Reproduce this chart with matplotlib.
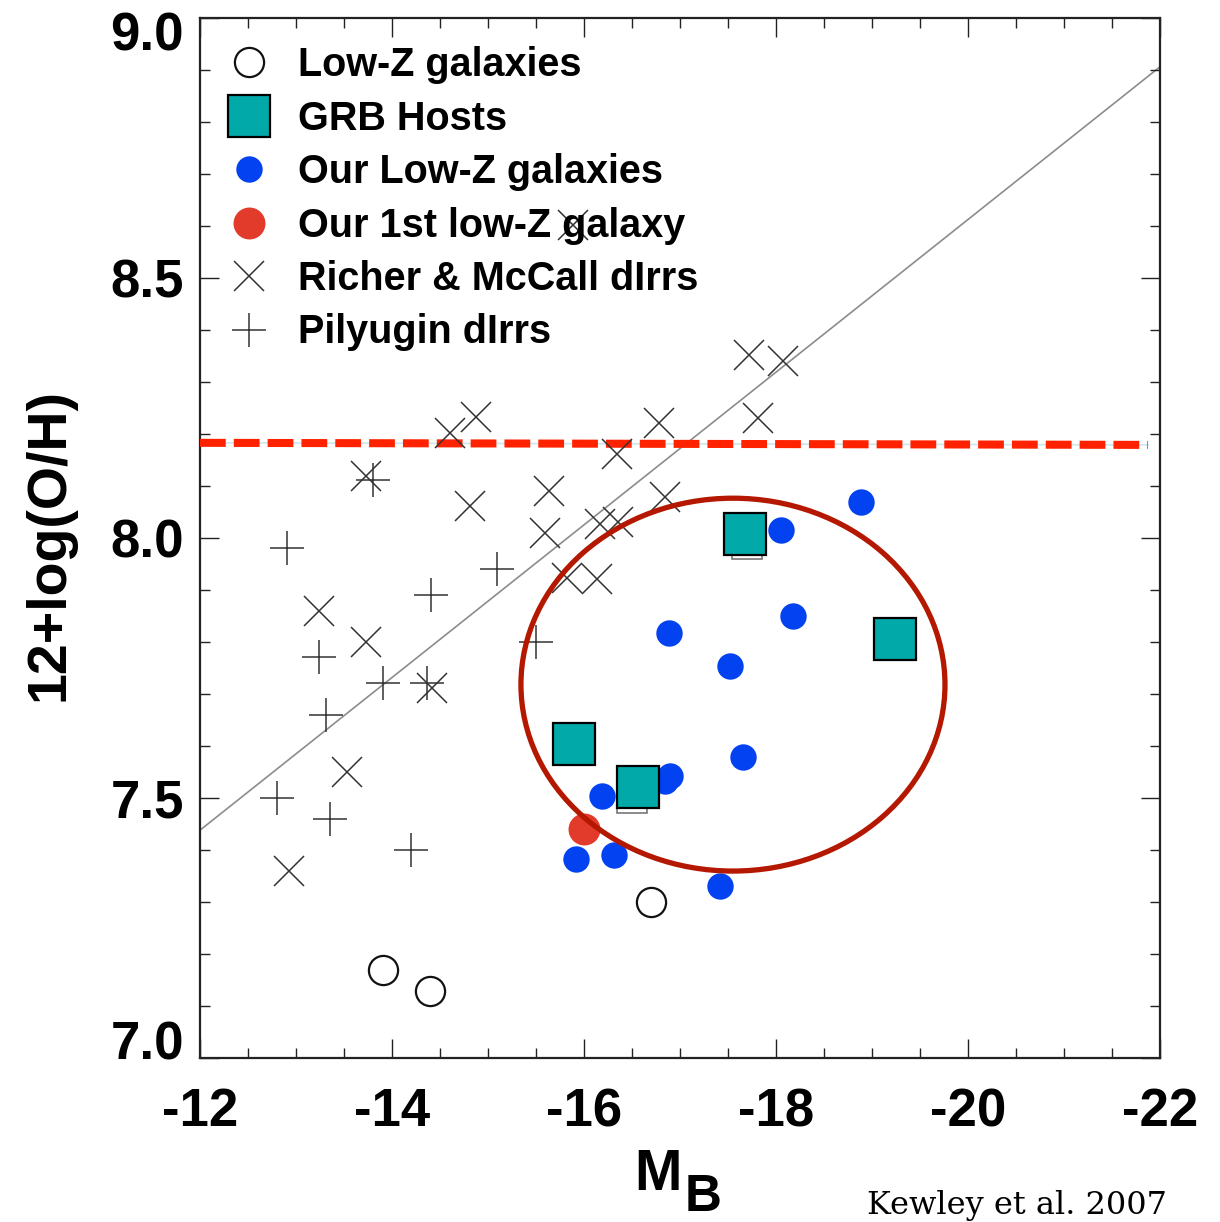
import matplotlib
matplotlib.use("Agg")
import matplotlib.pyplot as plt
from matplotlib.patches import Ellipse
from matplotlib.ticker import MultipleLocator
from matplotlib.transforms import ScaledTranslation

plt.rcParams['font.family'] = ['Liberation Sans', 'DejaVu Sans']

# ---------------- data ----------------
lowz_mb = [-13.906, -14.396, -16.698]
lowz_oh = [7.169, 7.129, 7.300]

grb_mb = [-17.677, -19.240, -15.896, -16.563]
grb_oh = [8.008, 7.806, 7.604, 7.521]

grb_alt_mb = [-17.698, -16.500, -19.260]
grb_alt_oh = [7.988, 7.500, 7.798]

our_mb = [-18.885, -18.052, -18.177, -16.885, -17.520, -17.656, -16.896,
          -16.844, -16.188, -15.917, -16.313, -17.417]
our_oh = [8.069, 8.015, 7.850, 7.817, 7.754, 7.579, 7.542,
          7.533, 7.504, 7.383, 7.390, 7.331]

first_mb = [-16.00]
first_oh = [7.440]

rm_mb = [-14.604, -14.875, -13.729, -16.781, -16.344, -14.813, -15.635,
         -15.594, -16.167, -16.354, -16.844, -15.823, -16.135, -13.240,
         -13.729, -14.417, -12.927, -13.531, -17.719, -18.073, -17.813,
         -15.885]
rm_oh = [8.202, 8.233, 8.119, 8.221, 8.162, 8.062, 8.090,
         8.010, 8.027, 8.031, 8.079, 7.923, 7.921, 7.860,
         7.800, 7.712, 7.360, 7.550, 8.352, 8.340, 8.231,
         8.602]

pil_mb = [-12.906, -13.802, -15.094, -14.406, -13.240, -13.906, -14.365,
          -13.313, -15.500, -12.802, -13.354, -14.198]
pil_oh = [7.981, 8.112, 7.940, 7.890, 7.771, 7.721, 7.721,
          7.660, 7.800, 7.500, 7.460, 7.400]

fit_mb = [-12.0, -22.0]
fit_oh = [7.438, 8.906]

limit_mb = [-12.0, -21.875]
limit_oh = [8.183, 8.179]

ellipse_center = (-17.552, 7.718)
ellipse_size = (4.417, 0.717)

xticks = [-12, -14, -16, -18, -20, -22]
yticks = [7.0, 7.5, 8.0, 8.5, 9.0]

# ---------------- figure ----------------
fig = plt.figure(figsize=(12.2, 12.22), dpi=100)
ax = fig.add_axes([0.1639, 0.1342, 0.7869, 0.8511])

ax.plot(fit_mb, fit_oh, color='#8c8c8c', lw=1.2, zorder=1)
ax.plot(limit_mb, limit_oh, color='#cfe6ea', lw=1.2, zorder=2)
ax.plot(limit_mb, limit_oh, color='#ff2200', lw=5.8, dashes=(3.2, 1.0),
        zorder=3, solid_capstyle='butt', dash_capstyle='butt')

ax.plot(rm_mb, rm_oh, ls='none', marker='x', ms=22, mew=1.1,
        color='#333333', label='Richer & McCall dIrrs', zorder=4)
ax.plot(pil_mb, pil_oh, ls='none', marker='+', ms=24, mew=1.1,
        color='#333333', label='Pilyugin dIrrs', zorder=4)

ax.plot(lowz_mb, lowz_oh, ls='none', marker='o', ms=21, mfc='white',
        mec='#111111', mew=1.6, label='Low-Z galaxies', zorder=5)

ax.plot(our_mb, our_oh, ls='none', marker='o', ms=19, mfc='#0342f0',
        mec='none', label='Our Low-Z galaxies', zorder=6)
ax.plot(first_mb, first_oh, ls='none', marker='o', ms=23, mfc='#e33b2b',
        mec='none', label='Our 1st low-Z galaxy', zorder=6)

ax.plot(grb_alt_mb, grb_alt_oh, ls='none', marker='s', ms=21, mfc='white',
        mec='#777777', mew=1.2, zorder=7)
ax.plot(grb_mb, grb_oh, ls='none', marker='s', ms=30, mfc='#02a9a9',
        mec='black', mew=1.6, label='GRB Hosts', zorder=8)

ell = Ellipse(ellipse_center, ellipse_size[0], ellipse_size[1], fill=False,
              edgecolor='#b51800', lw=3.8, zorder=9)
ax.add_patch(ell)

ax.set_xlim(-12, -22)
ax.set_ylim(7.0, 9.0)
ax.set_xticks(xticks)
ax.set_xticklabels([str(t) for t in xticks])
ax.set_yticks(yticks)
ax.set_yticklabels(['%.1f' % t for t in yticks])
ax.xaxis.set_minor_locator(MultipleLocator(0.5))
ax.yaxis.set_minor_locator(MultipleLocator(0.1))
ax.tick_params(which='both', direction='in', top=True, right=True,
               width=1.0, colors='#222222', labelcolor='black')
ax.tick_params(which='major', length=14)
ax.tick_params(which='minor', length=7)
ax.tick_params(axis='x', which='major', pad=21, labelsize=38)
ax.tick_params(axis='y', which='major', pad=11.5, labelsize=38)
for lab in ax.get_xticklabels() + ax.get_yticklabels():
    lab.set_fontweight('bold')
# end labels of the y axis are pulled inside the axis range, as in the original
ylabs = ax.get_yticklabels()
ylabs[0].set_transform(ylabs[0].get_transform() +
                       ScaledTranslation(0, 13 / 72, fig.dpi_scale_trans))
ylabs[-1].set_transform(ylabs[-1].get_transform() +
                        ScaledTranslation(0, -9.5 / 72, fig.dpi_scale_trans))
for sp in ax.spines.values():
    sp.set_linewidth(1.6)
    sp.set_color('#222222')

ax.set_xlabel('M', fontsize=41, fontweight='bold')
ax.xaxis.set_label_coords(0.477, -0.0865)
ax.annotate('B', xy=(1, 0), xycoords=ax.xaxis.label, xytext=(2, -6.5),
            textcoords='offset points', ha='left', va='baseline',
            fontsize=37, fontweight='bold')
ax.set_ylabel('12+log(O/H)', fontsize=40, fontweight='bold')
ax.yaxis.set_label_coords(-0.130, 0.4933)

handles, labels = ax.get_legend_handles_labels()
order = ['Low-Z galaxies', 'GRB Hosts', 'Our Low-Z galaxies',
         'Our 1st low-Z galaxy', 'Richer & McCall dIrrs', 'Pilyugin dIrrs']
hmap = dict(zip(labels, handles))
leg = ax.legend([hmap[o] for o in order], order, loc='upper left',
                bbox_to_anchor=(0.0056, 0.988), borderaxespad=0,
                frameon=False, handlelength=1.4, handletextpad=0.54,
                labelspacing=0.39, prop={'size': 28.5, 'weight': 'bold'},
                numpoints=1)
leg.set_zorder(10)

fig.text(867 / 1220, 8 / 1222, 'Kewley et al. 2007', fontsize=23,
         family=['DejaVu Serif', 'Liberation Serif'], ha='left',
         va='baseline')

fig.savefig('out.png', dpi=100)
